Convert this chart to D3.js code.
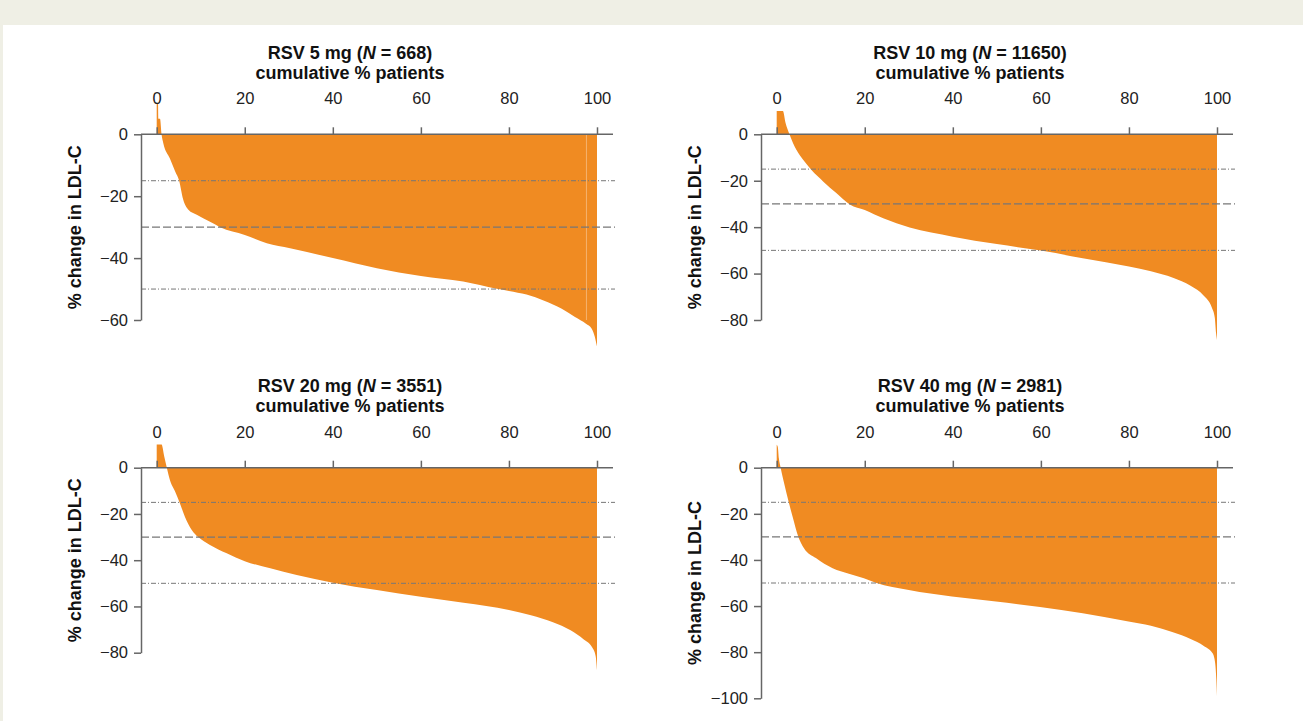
<!DOCTYPE html>
<html>
<head>
<meta charset="utf-8">
<script src="https://cdn.jsdelivr.net/npm/d3@7"></script>
<style>
body { margin: 0; background: #efefe5; }
svg { display: block; font-family: "Liberation Sans", Arial, sans-serif; }
</style>
</head>
<body>
<svg id="chart" width="1303" height="721"></svg>
<script>
// waterfall values: [cumulative % patients, % change in LDL-C]
var rsv5 = [[0, 10], [0.3, 10], [0.4, 5], [0.75, 5], [1.1, 0], [1.5, -2.9], [3, -7.8], [4.2, -12], [5.1, -15],
  [6, -21], [7.2, -24.4], [9.1, -26], [12, -28.2], [14.4, -30], [20, -32.5], [25, -35.2], [30.3, -36.8],
  [40, -40], [50, -43.3], [60, -45.8], [69.6, -47.6], [77.2, -49.9], [80, -50.6], [84, -51.8], [88, -53.8],
  [92, -56.4], [95, -59], [97.5, -61.2], [98.8, -62.8], [99.5, -65.4], [100, -68.6]];
var rsv10 = [[0, 10], [1.4, 10], [2, 5], [2.9, 0], [4.5, -6.8], [6, -11], [7.9, -15.4], [10.6, -20.4],
  [13.6, -25.4], [16.6, -30.2], [20, -32.6], [24.2, -36.2], [30.2, -40.2], [40, -44.1], [50, -47.3],
  [60, -50.1], [69.5, -53.4], [80, -57], [85, -59], [90, -61.8], [94, -65.2], [97, -69.5], [98.8, -74.5],
  [99.5, -79], [99.8, -85.8], [100, -88.6]];
var rsv20 = [[0, 10], [1.1, 10], [1.7, 5], [2.3, 0], [3, -5.3], [4.2, -10.4], [5.2, -15], [6.4, -21.2],
  [8, -27], [9.5, -30.1], [12.1, -33.4], [15.9, -37], [20, -40.4], [25.8, -43.5], [31.8, -46.4],
  [40, -49.7], [50, -52.9], [60, -55.8], [69.7, -58.4], [80, -61.5], [85, -63.8], [90, -66.8], [94, -70.3],
  [97, -74.3], [99, -78], [99.7, -81.5], [100, -87.5]];
var rsv40 = [[0, 10], [0.25, 9], [0.5, 4], [0.9, 0], [1.7, -6.8], [2.7, -14.7], [3.6, -21.2], [4.9, -29.9],
  [6.2, -34.9], [8.9, -39.2], [12.7, -43.6], [16.4, -46], [19.8, -47.9], [22.5, -49.9], [30, -53],
  [39.8, -55.8], [49.8, -58], [59.8, -60.4], [69.5, -63.1], [79.9, -66.7], [85, -68.5], [90, -71.4],
  [94, -74.3], [97, -77.3], [99, -80.5], [99.6, -85], [99.85, -92], [100, -99]];

var doses = ["RSV 5 mg", "RSV 10 mg", "RSV 20 mg", "RSV 40 mg"];
var patients = [668, 11650, 3551, 2981];
var xTicks = [0, 20, 40, 60, 80, 100];
var yTicks5 = [0, -20, -40, -60];
var yTicks10 = [0, -20, -40, -60, -80];
var yTicks20 = [0, -20, -40, -60, -80];
var yTicks40 = [0, -20, -40, -60, -80, -100];
var thresholds = [-15, -30, -50];
var gaps5 = [97.6]; // thin pale gap in the 5 mg bars

var orange = "#f08b22";
var axisColor = "#666";

var svg = d3.select("svg#chart");
svg.append("rect")
  .attr("x", 3).attr("y", 25)
  .attr("width", 1300).attr("height", 696)
  .attr("fill", "#fff");

var panels = [
  {data: rsv5, yTicks: yTicks5, gaps: gaps5, left: 141, top: 134.3, bottom: 320},
  {data: rsv10, yTicks: yTicks10, gaps: [], left: 761, top: 134.3, bottom: 320},
  {data: rsv20, yTicks: yTicks20, gaps: [], left: 141, top: 467.7, bottom: 652.7},
  {data: rsv40, yTicks: yTicks40, gaps: [], left: 761, top: 467.7, bottom: 698.3}
];

panels.forEach(function(p, i) { drawPanel(p, i); });

function drawPanel(p, i) {
  var x = d3.scaleLinear().domain([0, 100]).range([p.left + 15.7, p.left + 456]);
  var y = d3.scaleLinear().domain([0, d3.min(p.yTicks)]).range([p.top, p.bottom]);
  var g = svg.append("g").attr("class", "panel");

  // orange waterfall
  var area = d3.area()
    .x(d => x(d[0]))
    .y0(y(0))
    .y1(d => y(d[1]))
    .curve(d3.curveMonotoneX);
  g.append("path").datum(p.data)
    .attr("d", area)
    .attr("fill", orange);

  g.selectAll("line.gap").data(p.gaps).enter().append("line")
    .attr("class", "gap")
    .attr("x1", d => x(d)).attr("x2", d => x(d))
    .attr("y1", y(0)).attr("y2", y(-60))
    .attr("stroke", "#fff").attr("stroke-opacity", 0.35).attr("stroke-width", 1);

  // reference lines at -15, -30, -50
  g.selectAll("line.ref").data(thresholds).enter().append("line")
    .attr("class", "ref")
    .attr("x1", p.left).attr("x2", p.left + 474)
    .attr("y1", d => y(d)).attr("y2", d => y(d))
    .attr("stroke", "#777")
    .attr("stroke-width", d => d === -30 ? 1.3 : 1)
    .attr("stroke-dasharray", d => d === -30 ? "8,3" : "5,2,1,2");

  // x axis on top
  var xAxis = g.append("g")
    .attr("transform", translate(0, p.top))
    .call(d3.axisTop(x).tickValues(xTicks).tickSize(7).tickPadding(23).tickSizeOuter(0));
  xAxis.select(".domain").remove();
  xAxis.append("line")
    .attr("x1", p.left).attr("x2", p.left + 472)
    .attr("stroke", axisColor).attr("stroke-width", 1.5);

  var yAxis = g.append("g")
    .attr("transform", translate(p.left, 0))
    .call(d3.axisLeft(y).tickValues(p.yTicks).tickSize(7).tickPadding(6).tickSizeOuter(0)
      .tickFormat(d => d < 0 ? "\u2212" + Math.abs(d) : d));

  g.selectAll(".domain, .tick line").attr("stroke", axisColor).attr("stroke-width", 1.5);
  g.selectAll(".tick text").attr("font-size", 16.5).attr("fill", "#222").attr("font-family", null);

  // titles
  var title = g.append("text")
    .attr("x", p.left + 209).attr("y", p.top - 75.5)
    .attr("text-anchor", "middle")
    .attr("font-size", 18).attr("font-weight", "bold").attr("fill", "#111");
  title.append("tspan").text(doses[i] + " (");
  title.append("tspan").attr("font-style", "italic").text("N");
  title.append("tspan").text(" = " + patients[i] + ")");

  g.append("text")
    .attr("x", p.left + 209).attr("y", p.top - 55.5)
    .attr("text-anchor", "middle")
    .attr("font-size", 18).attr("font-weight", "bold").attr("fill", "#111")
    .text("cumulative % patients");

  g.append("text")
    .attr("transform", translate(p.left - 66, (p.top + p.bottom) / 2) + " rotate(-90)")
    .attr("text-anchor", "middle")
    .attr("dy", "0.35em")
    .attr("font-size", 18).attr("font-weight", "bold").attr("fill", "#111")
    .text("% change in LDL-C");
}

function translate(x, y) {
  return 'translate(' + String(x) + ',' + String(y) + ')';
}
</script>
</body>
</html>
